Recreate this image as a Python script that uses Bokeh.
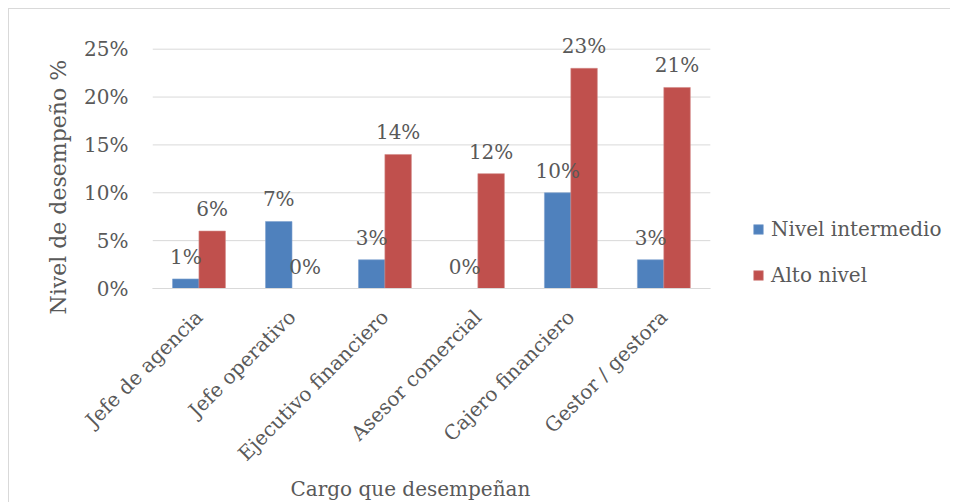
from math import pi
from bokeh.plotting import figure
from bokeh.core.properties import value
from bokeh.models import (ColumnDataSource, LabelSet, Legend, LegendItem, Title,
                          NumeralTickFormatter, FixedTicker, Range1d)
from bokeh.transform import dodge
from bokeh.embed import file_html
from bokeh.resources import INLINE

categories = ["Jefe de agencia", "Jefe operativo", "Ejecutivo financiero",
              "Asesor comercial", "Cajero financiero", "Gestor / gestora"]
nivel_intermedio = [0.01, 0.07, 0.03, 0.00, 0.10, 0.03]
alto_nivel = [0.06, 0.00, 0.14, 0.12, 0.23, 0.21]
y_ticks = [0, 0.05, 0.10, 0.15, 0.20, 0.25]

FONT = "DejaVu Serif"
TXT = "#595959"
GRID = "#d9d9d9"
BLUE = "#4F81BD"
RED = "#C0504D"

n = len(categories)
pos = list(range(1, n + 1))
src = ColumnDataSource(dict(
    xi=pos,
    a=nivel_intermedio,
    b=alto_nivel,
    alab=[f"{round(v*100)}%" for v in nivel_intermedio],
    blab=[f"{round(v*100)}%" for v in alto_nivel],
))

# frame: categories occupy the left part, the legend sits in the right part
p = figure(x_range=Range1d(0.5, 9.04), y_range=Range1d(0, 0.2831),
           width=942, height=494,
           output_backend="svg", toolbar_location=None,
           min_border_left=143, min_border_right=5,
           min_border_top=8, min_border_bottom=215,
           styles={"border-left": "1px solid #d9d9d9", "border-top": "1px solid #d9d9d9"})
p.margin = (8, 8, 0, 8)
p.outline_line_color = None
p.background_fill_color = "white"
p.border_fill_color = "white"

# horizontal gridlines limited to the category area
p.xgrid.grid_line_color = None
p.ygrid.grid_line_color = None
p.segment(x0=[0.5] * len(y_ticks), x1=[n + 0.5] * len(y_ticks), y0=y_ticks, y1=y_ticks,
          line_color=GRID, line_width=1)

off = 0.142
w = 0.285
r1 = p.vbar(x=dodge("xi", -off), top="a", width=w, source=src,
            fill_color=BLUE, line_color="#7fa3d0", line_width=0.6)
r2 = p.vbar(x=dodge("xi", off), top="b", width=w, source=src,
            fill_color=RED, line_color="#d48a88", line_width=0.6)

for col, lab, d in (("a", "alab", -off), ("b", "blab", off)):
    ls = LabelSet(x=dodge("xi", d), y=col, text=lab, source=src,
                  text_align="center", text_baseline="alphabetic", y_offset=15,
                  text_font=value(FONT), text_font_size=value("20px"),
                  text_color=TXT)
    p.add_layout(ls)

p.yaxis.ticker = FixedTicker(ticks=y_ticks)
p.yaxis.formatter = NumeralTickFormatter(format="0%")
p.yaxis.axis_line_color = None
p.yaxis.major_tick_line_color = None
p.yaxis.minor_tick_line_color = None
p.yaxis.major_tick_out = 0
p.yaxis.major_label_text_font = FONT
p.yaxis.major_label_text_font_size = "20px"
p.yaxis.major_label_text_color = TXT
p.yaxis.major_label_standoff = 24

p.xaxis.ticker = FixedTicker(ticks=pos)
p.xaxis.major_label_overrides = {i: c for i, c in zip(pos, categories)}
p.xaxis.bounds = (0.5, n + 0.5)
p.xaxis.axis_line_color = GRID
p.xaxis.major_tick_line_color = None
p.xaxis.minor_tick_line_color = None
p.xaxis.major_tick_out = 0
p.xaxis.major_label_orientation = pi / 4
p.xaxis.major_label_text_font = FONT
p.xaxis.major_label_text_font_size = "20px"
p.xaxis.major_label_text_color = TXT
p.xaxis.major_label_standoff = 25

p.add_layout(Title(text="Nivel de desempeño %", align="left", offset=-26,
                   text_font=FONT, text_font_size="22px", text_font_style="normal",
                   text_color=TXT, standoff=22), "left")
p.add_layout(Title(text="Cargo que desempeñan", align="left", offset=138,
                   vertical_align="top",
                   text_font=FONT, text_font_size="20px", text_font_style="normal",
                   text_color=TXT, standoff=0), "below")

legend = Legend(items=[LegendItem(label="Nivel intermedio", renderers=[r1]),
                       LegendItem(label="Alto nivel", renderers=[r2])],
                location=(600, 1), orientation="vertical",
                glyph_width=12, glyph_height=12, label_height=24,
                label_standoff=7, spacing=22, padding=0, margin=0,
                border_line_color=None, background_fill_alpha=0,
                label_text_font=FONT, label_text_font_size="20px",
                label_text_color=TXT)
p.add_layout(legend, "center")

open("out.html", "w").write(file_html(p, INLINE))
